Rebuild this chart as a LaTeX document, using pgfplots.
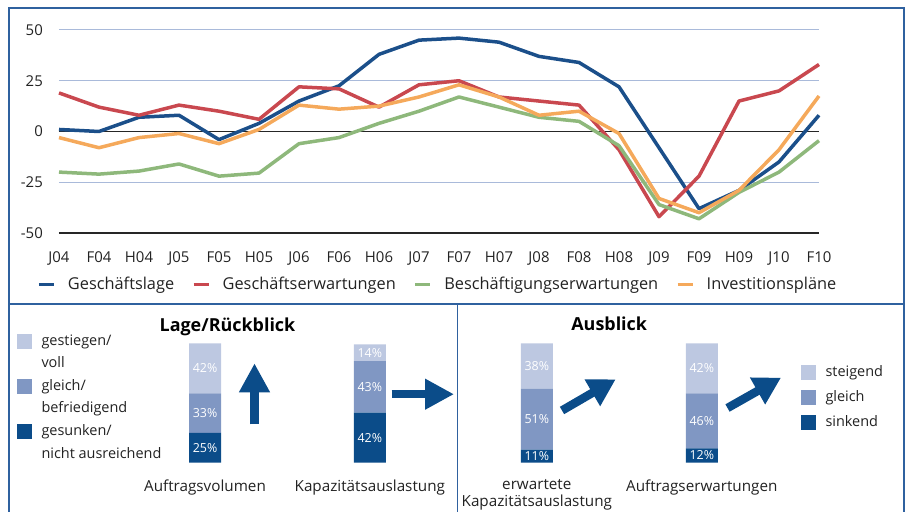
\documentclass[border=0pt]{standalone}
\usepackage{pgfplots}
\pgfplotsset{compat=1.18}
\usepackage{fontspec}
\setmainfont{Open Sans}
\usetikzlibrary{arrows.meta}
\definecolor{cblue}{HTML}{1B4F8A}
\definecolor{cred}{HTML}{C9484F}
\definecolor{cgreen}{HTML}{8EB87B}
\definecolor{corange}{HTML}{F5A95B}
\definecolor{gridc}{HTML}{A9BADA}
\definecolor{framec}{HTML}{2F619F}
\definecolor{blight}{HTML}{BDC8E1}
\definecolor{bmid}{HTML}{8097C3}
\definecolor{bdark}{HTML}{0B4C89}
\definecolor{txt}{HTML}{222222}
\pgfplotsset{
  baraxis/.style={
    at={(0bp,49.3bp)}, anchor=south west, scale only axis, width=909bp, height=119.4bp,
    xmin=0, xmax=909, ymin=0, ymax=100, enlargelimits=false,
    ybar stacked, bar width=32bp,
    axis line style={draw=none}, ytick=\empty, major tick length=0pt,
    xticklabel style={font=\fontsize{15.3}{17}\selectfont, text=txt, inner sep=0pt, yshift=-16.6bp, align=center},
    clip=false,
    /pgf/number format/assume math mode=true,
    nodes near coords={\pgfmathprintnumber{\pgfplotspointmeta}\%},
    every node near coord/.append style={anchor=center, font=\fontsize{12.5}{14}\selectfont, text=white, inner sep=0pt},
    legend style={draw=none, fill=none, inner sep=0pt, outer sep=0pt, anchor=north west, font=\fontsize{14.5}{17}\selectfont, text=txt, cells={anchor=base west}, nodes={inner sep=0pt, text height=11bp, text depth=4bp}, /tikz/every odd column/.append style={column sep=9.5bp}},
    legend image code/.code={\fill[##1] (0bp,-3.5bp) rectangle (15bp,11.5bp);},
  }
}
\begin{document}
\begin{tikzpicture}
\useasboundingbox (0bp,0bp) rectangle (909bp,512bp);
\draw[framec, line width=1.6bp] (9bp,-20bp) -- (9bp,504bp) -- (904bp,504bp) -- (904bp,-20bp);
\draw[framec, line width=1.6bp] (9bp,207.7bp) -- (904bp,207.7bp);
\draw[framec, line width=1.6bp] (457.3bp,207.7bp) -- (457.3bp,-20bp);

\begin{axis}[
  at={(59bp,279bp)}, anchor=south west,
  scale only axis, width=760bp, height=203bp,
  xmin=0, xmax=19, ymin=-50, ymax=50,
  xtick={0,...,19},
  xticklabels={J04,F04,H04,J05,F05,H05,J06,F06,H06,J07,F07,H07,J08,F08,H08,J09,F09,H09,J10,F10},
  ytick={-50,-25,0,25,50},
  ymajorgrids, major grid style={gridc, line width=1bp},
  extra y ticks={-50,0}, extra y tick labels={},
  extra y tick style={ymajorgrids=true, major grid style={black!85, line width=1.2bp}},
  axis line style={draw=none},
  major tick length=0pt,
  tick label style={font=\fontsize{15}{18}\selectfont, text=txt},
  /pgf/number format/assume math mode=true,
  yticklabel style={inner sep=0pt, xshift=-16bp},
  xticklabel style={inner sep=0pt, yshift=-18bp},
  clip=false,
  legend columns=-1,
  legend style={draw=none, fill=none, at={(axis description cs:-0.0283,-0.2143)}, anchor=north west, inner sep=0pt, outer sep=0pt, font=\fontsize{16.4}{19}\selectfont, text=txt, cells={anchor=base west}, nodes={inner sep=0pt}, /tikz/every odd column/.append style={column sep=12.5bp}, /tikz/every even column/.append style={column sep=18bp}},
  legend image code/.code={\draw[#1, line width=3bp] (0bp,4.5bp) -- (15bp,4.5bp);},
  every axis plot/.append style={line width=3.5bp, line join=round},
]
\addplot[cblue] coordinates {(0,1) (1,0) (2,7) (3,8) (4,-4) (5,4) (6,15) (7,22.5) (8,38) (9,45) (10,46) (11,44) (12,37) (13,34) (14,22) (15,-8) (16,-38) (17,-29) (18,-15) (19,8)};
\addlegendentry{Geschäftslage}
\addplot[cred] coordinates {(0,19) (1,12) (2,8) (3,13) (4,10) (5,6) (6,22) (7,21) (8,12) (9,23) (10,25) (11,17) (12,15) (13,13) (14,-9) (15,-42) (16,-22) (17,15) (18,20) (19,33)};
\addlegendentry{Geschäftserwartungen}
\addplot[cgreen] coordinates {(0,-20) (1,-21) (2,-19.5) (3,-16) (4,-22) (5,-20.5) (6,-6) (7,-3) (8,4) (9,10) (10,17) (11,12) (12,7) (13,5) (14,-7) (15,-36) (16,-43) (17,-30) (18,-20) (19,-4.5)};
\addlegendentry{Beschäftigungserwartungen}
\addplot[corange] coordinates {(0,-3) (1,-8) (2,-3) (3,-1) (4,-6) (5,1) (6,13) (7,11) (8,12.5) (9,17) (10,23) (11,17) (12,8) (13,10) (14,-1) (15,-33) (16,-40) (17,-29) (18,-9) (19,17.5)};
\addlegendentry{Investitionspläne}
\end{axis}

\begin{axis}[baraxis,
  xtick={205,369.8}, xticklabels={Auftragsvolumen,Kapazitätsauslastung},
  legend style={at={(axis cs:17,108.2)}, row sep=7.4bp},
]
\addlegendimage{fill=blight, draw=none}
\addlegendentry{gestiegen/}
\addlegendimage{empty legend}
\addlegendentry{voll}
\addlegendimage{fill=bmid, draw=none}
\addlegendentry{gleich/}
\addlegendimage{empty legend}
\addlegendentry{befriedigend}
\addlegendimage{fill=bdark, draw=none}
\addlegendentry{gesunken/}
\addlegendimage{empty legend}
\addlegendentry{nicht ausreichend}
\addplot[fill=bdark, draw=none, forget plot] coordinates {(205,25) (369.8,42)};
\addplot[fill=bmid, draw=none, forget plot] coordinates {(205,33) (369.8,43)};
\addplot[fill=blight, draw=none, forget plot] coordinates {(205,42) (369.8,14)};
\end{axis}

\begin{axis}[baraxis,
  xtick={536.8,701.8}, xticklabels={{erwartete\\Kapazitätsauslastung},Auftragserwartungen},
  legend style={at={(axis cs:801,81.8)}, row sep=9.4bp},
  reverse legend,
]
\addplot[fill=bdark, draw=none] coordinates {(536.8,11) (701.8,12)};
\addlegendentry{sinkend}
\addplot[fill=bmid, draw=none] coordinates {(536.8,51) (701.8,46)};
\addlegendentry{gleich}
\addplot[fill=blight, draw=none] coordinates {(536.8,38) (701.8,42)};
\addlegendentry{steigend}
\end{axis}

\node[font=\bfseries\fontsize{18}{20}\selectfont, anchor=base, text=black] at (227.5bp,180.3bp) {Lage/Rückblick};
\node[font=\bfseries\fontsize{18}{20}\selectfont, anchor=base, text=black] at (609.2bp,181bp) {Ausblick};

\draw[bdark, line width=8.5bp, -{Triangle[length=29bp,width=29bp]}] (254.5bp,87.7bp) -- (254.5bp,148.7bp);
\draw[bdark, line width=8.5bp, -{Triangle[length=29bp,width=29bp]}] (391.7bp,117.8bp) -- (454bp,117.8bp);
\draw[bdark, line width=8.5bp, -{Triangle[length=27bp,width=29bp]}] (562bp,101.5bp) -- (615.7bp,132.7bp);
\draw[bdark, line width=8.5bp, -{Triangle[length=27bp,width=29bp]}] (727.5bp,104bp) -- (781bp,134.3bp);
\end{tikzpicture}
\end{document}
